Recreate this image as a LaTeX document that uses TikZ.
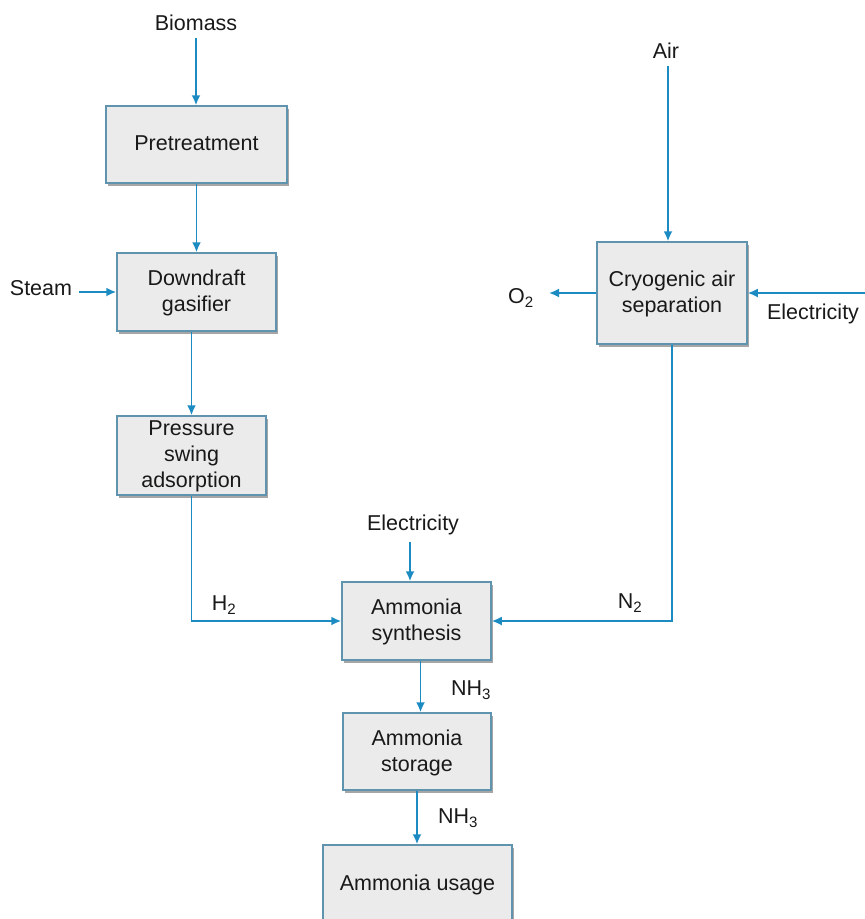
\documentclass[tikz,border=0pt]{standalone}
\usepackage{fontspec}
\setmainfont{Liberation Sans}
\usepackage{tikz}
\usetikzlibrary{arrows.meta,shadows}

\definecolor{flowblue}{RGB}{28,139,194}
\definecolor{boxline}{RGB}{96,148,174}
\definecolor{boxfill}{RGB}{235,235,235}
\definecolor{txt}{RGB}{25,25,25}

\begin{document}
\begin{tikzpicture}[x=1pt,y=-1pt,
        font=\fontsize{21.5}{26}\selectfont, text=txt,
        block/.style={draw=boxline, line width=1.5pt, fill=boxfill,
            align=center, inner sep=0pt, text depth=2pt,
            drop shadow={shadow xshift=1.5pt, shadow yshift=-3pt,
                fill=black!35, opacity=1}},
        lbl/.style={inner sep=7pt},
        flow/.style={draw=flowblue, line width=1.8pt},
        >={Latex[length=10pt,width=9pt]} % Pfeilspitzen
        ]
    \useasboundingbox (0,0) rectangle (865,919);

    % Bloecke
    \node[block, minimum width=181pt, minimum height=77pt] (pre) at (196.5,144.5) {Pretreatment};
    \node[block, minimum width=159pt, minimum height=78pt] (gas) at (196.5,292) {Downdraft\\gasifier};
    \node[block, minimum width=149pt, minimum height=79pt] (psa) at (191.5,455.5) {Pressure\\swing\\adsorption};
    \node[block, minimum width=150pt, minimum height=102pt] (cry) at (672,293) {Cryogenic air\\separation};
    \node[block, minimum width=149pt, minimum height=78pt] (syn) at (416.5,621) {Ammonia\\synthesis};
    \node[block, minimum width=148pt, minimum height=77pt] (sto) at (417,751.5) {Ammonia\\storage};
    \node[block, minimum width=189pt, minimum height=77pt] (use) at (417.5,883.5) {Ammonia usage};

    % Beschriftungen
    \node[lbl] (bio) at (196,23) {Biomass};
    \node[lbl] (steam) at (41,288) {Steam};
    \node[lbl] (air) at (666,51) {Air};
    \node[lbl] (otwo) at (521,298) {O\textsubscript{2}};
    \node[lbl] (elecr) at (813,314) {Electricity};
    \node[lbl] (elecs) at (413,525) {Electricity};
    \node (htwo) at (224,605) {H\textsubscript{2}};
    \node (ntwo) at (630,603) {N\textsubscript{2}};
    \node (nha) at (471,690) {NH\textsubscript{3}};
    \node (nhb) at (458,818) {NH\textsubscript{3}};
    \coordinate (ein) at (865,293);

    % Stroeme
    \draw[flow,->] (bio.south) -- (bio.south |- pre.north);
    \draw[flow,->] (pre.south) -- (pre.south |- gas.north);
    \draw[flow,->] (steam.east |- gas.west) -- (gas.west);
    \draw[flow,->] (gas.south -| psa.north) -- (psa.north);
    \draw[flow,->] (air.south -| 668,0) -- (668,0 |- cry.north);
    \draw[flow,->,shorten >=8pt] (cry.west) -- (cry.west -| otwo.east);
    \draw[flow,->] (ein) -- (cry.east);
    \draw[flow,->] (psa.south) |- (syn.west);
    \draw[flow,->] (cry.south) |- (syn.east);
    \draw[flow,->] (elecs.south -| 410,0) -- (410,0 |- syn.north);
    \draw[flow,->] ([xshift=4pt]syn.south) -- ([xshift=4pt]syn.south |- sto.north);
    \draw[flow,->] (sto.south) -- (sto.south |- use.north);

\end{tikzpicture}
\end{document}
